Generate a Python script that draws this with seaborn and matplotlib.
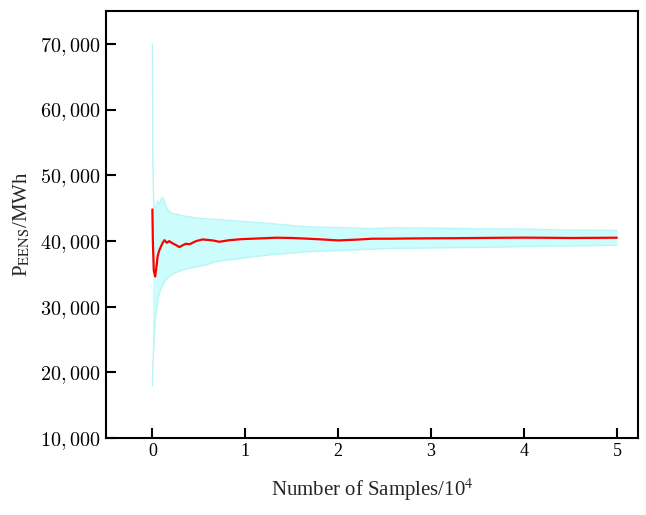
import matplotlib
matplotlib.use("Agg")
import matplotlib.pyplot as plt
import seaborn as sns
import pandas as pd
from matplotlib.ticker import FixedLocator, FuncFormatter

# running estimate of EENS (samples in units of 10^4)
line_n = [0, 0.005, 0.015, 0.03, 0.045, 0.057, 0.075, 0.094, 0.11, 0.13, 0.155,
          0.18, 0.22, 0.255, 0.29, 0.33, 0.36, 0.4, 0.47, 0.54, 0.65, 0.72,
          0.83, 0.97, 1.15, 1.33, 1.5, 1.66, 1.8, 2.0, 2.2, 2.37, 2.55, 2.8,
          3.0, 3.25, 3.5, 3.75, 4.0, 4.25, 4.5, 4.75, 5.0]
eens_mean = [44800, 40000, 35500, 34600, 36200, 37700, 38600, 39200, 39700, 40120, 39720,
             39970, 39620, 39360, 39060, 39360, 39570, 39500, 39970, 40230, 40080, 39870,
             40120, 40280, 40380, 40490, 40450, 40350, 40250, 40080, 40200, 40340, 40340, 40380,
             40400, 40420, 40450, 40480, 40500, 40480, 40450, 40470, 40490]

# confidence band
band_n = [0, 0.005, 0.015, 0.03, 0.057, 0.075, 0.094, 0.11, 0.13, 0.14, 0.16,
          0.2, 0.24, 0.27, 0.31, 0.38, 0.45, 0.56, 0.67, 0.78, 0.9, 1.0,
          1.15, 1.29, 1.5, 1.66, 1.8, 2.0, 2.2, 2.37, 2.55, 2.8, 3.0, 3.25,
          3.5, 3.75, 4.0, 4.25, 4.5, 4.75, 5.0]
eens_upper = [70000, 52000, 45300, 45000, 46100, 45600, 46300, 46600, 46000, 45500, 44800,
              44300, 44100, 44050, 43850, 43690, 43550, 43380, 43280, 43170, 43050, 42950,
              42780, 42620, 42350, 42160, 42100, 42050, 41950, 41860, 42000, 41980, 41950, 41900,
              41850, 41820, 41800, 41720, 41650, 41620, 41600]
eens_lower = [17900, 21000, 24000, 28000, 31070, 32000, 32850, 33300, 33800, 34000, 34380,
              34800, 35150, 35300, 35500, 35800, 36000, 36300, 36800, 37070, 37250, 37450,
              37700, 37940, 38150, 38350, 38450, 38550, 38650, 38750, 38850, 38900, 38950, 38980,
              39000, 39080, 39150, 39200, 39250, 39300, 39340]

x_ticks = [0, 1, 2, 3, 4, 5]
y_ticks = [10000, 20000, 30000, 40000, 50000, 60000, 70000]

line_df = pd.DataFrame({"n": line_n, "mean": eens_mean})
band_df = pd.DataFrame({"n": band_n, "upper": eens_upper, "lower": eens_lower})

sns.set_style("ticks")
plt.rcParams["font.family"] = ["Liberation Serif", "DejaVu Serif"]
plt.rcParams["axes.linewidth"] = 1.5

fig = plt.figure(figsize=(6.46, 5.15), dpi=100)
ax = fig.add_axes([0.164, 0.1495, 0.824, 0.8291])

ax.fill_between(band_df["n"], band_df["lower"], band_df["upper"], color="#ccfcfc", linewidth=0)
sns.lineplot(data=band_df, x="n", y="upper", color="#b8f6f6", linewidth=1.0, ax=ax)
sns.lineplot(data=band_df, x="n", y="lower", color="#b8f6f6", linewidth=1.0, ax=ax)
sns.lineplot(data=line_df, x="n", y="mean", color="red", linewidth=1.6, ax=ax)

ax.set_xlim(-0.5, 5.23)
ax.set_ylim(10000, 75000)
ax.xaxis.set_major_locator(FixedLocator(x_ticks))
ax.yaxis.set_major_locator(FixedLocator(y_ticks))
ax.yaxis.set_major_formatter(FuncFormatter(lambda v, p: "$%d,%03d$" % (v // 1000, v % 1000)))
ax.tick_params(direction="in", length=7, width=1.5, colors="black",
               labelsize=13, top=False, right=False)
for lab in ax.get_yticklabels():
    lab.set_math_fontfamily("cm")
    lab.set_fontsize(14.5)
for sp in ax.spines.values():
    sp.set_visible(True)
    sp.set_color("black")

ax.set_xlabel(r"Number of Samples/10$^4$", fontsize=15, math_fontfamily="stix", labelpad=12)
ax.set_ylabel(r"P$_{\mathrm{EENS}}$/MWh", fontsize=15, math_fontfamily="stix", labelpad=6)

fig.savefig("out.png", dpi=100)
